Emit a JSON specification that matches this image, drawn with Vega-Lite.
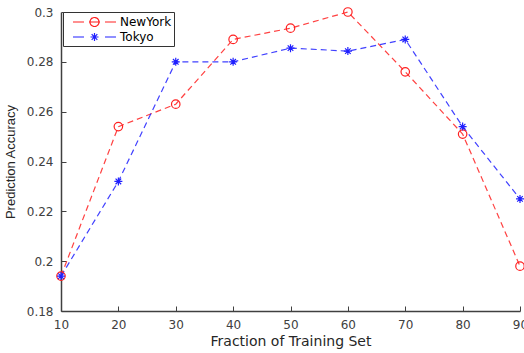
{
  "$schema": "https://vega.github.io/schema/vega-lite/v6.json",
  "autosize": "none",
  "width": 459,
  "height": 299,
  "padding": {"left": 61, "top": 12, "right": 4, "bottom": 42},
  "background": "white",
  "config": {
    "view": {"stroke": null},
    "font": "DejaVu Sans",
    "axis": {
      "domainColor": "#404040",
      "domainWidth": 1.5,
      "tickColor": "#404040",
      "tickSize": -5,
      "grid": false,
      "labelFlush": false,
      "labelColor": "#404040",
      "labelFont": "DejaVu Sans",
      "labelFontSize": 12,
      "titleFont": "DejaVu Sans",
      "titleFontSize": 14,
      "titleFontWeight": "normal",
      "titleColor": "#262626"
    }
  },
  "data": {
    "values": [
      {"frac": 10, "city": "NewYork", "acc": 0.194},
      {"frac": 20, "city": "NewYork", "acc": 0.254},
      {"frac": 30, "city": "NewYork", "acc": 0.263},
      {"frac": 40, "city": "NewYork", "acc": 0.289},
      {"frac": 50, "city": "NewYork", "acc": 0.2935},
      {"frac": 60, "city": "NewYork", "acc": 0.300},
      {"frac": 70, "city": "NewYork", "acc": 0.276},
      {"frac": 80, "city": "NewYork", "acc": 0.251},
      {"frac": 90, "city": "NewYork", "acc": 0.198},
      {"frac": 10, "city": "Tokyo", "acc": 0.194},
      {"frac": 20, "city": "Tokyo", "acc": 0.232},
      {"frac": 30, "city": "Tokyo", "acc": 0.280},
      {"frac": 40, "city": "Tokyo", "acc": 0.280},
      {"frac": 50, "city": "Tokyo", "acc": 0.2855},
      {"frac": 60, "city": "Tokyo", "acc": 0.2843},
      {"frac": 70, "city": "Tokyo", "acc": 0.289},
      {"frac": 80, "city": "Tokyo", "acc": 0.254},
      {"frac": 90, "city": "Tokyo", "acc": 0.225}
    ]
  },
  "encoding": {
    "x": {
      "field": "frac", "type": "quantitative",
      "scale": {"domain": [10, 90], "nice": false, "zero": false},
      "axis": {"values": [10, 20, 30, 40, 50, 60, 70, 80, 90], "format": "d", "title": "Fraction of Training Set", "labelPadding": 13, "titlePadding": 4}
    },
    "y": {
      "field": "acc", "type": "quantitative",
      "scale": {"domain": [0.18, 0.3], "nice": false, "zero": false},
      "axis": {"values": [0.18, 0.2, 0.22, 0.24, 0.26, 0.28, 0.3], "format": "~f", "title": "Prediction Accuracy", "titleFont": "Liberation Sans", "titleFontSize": 13, "labelPadding": 13, "titlePadding": 9}
    },
    "color": {
      "field": "city", "type": "nominal",
      "scale": {"domain": ["NewYork", "Tokyo"], "range": ["#ff2020", "#2020ff"]}
    }
  },
  "layer": [
    {
      "mark": {"type": "point", "filled": false, "opacity": 0.001},
      "encoding": {
        "color": {"field": "city", "type": "nominal",
          "legend": {
            "title": null,
            "orient": "none",
            "legendX": 2,
            "legendY": 0,
            "padding": 2,
            "rowPadding": 0,
            "strokeColor": "#333333",
            "fillColor": "white",
            "labelFontSize": 12,
            "labelColor": "#000000",
            "labelFont": "DejaVu Sans",
            "symbolSize": 196,
            "symbolStrokeWidth": 1.2,
            "symbolOpacity": 1,
            "symbolDash": [1, 0],
            "symbolOffset": 0,
            "labelOffset": 39
          }
        },
        "shape": {
          "field": "city", "type": "nominal",
          "legend": {
            "title": null,
            "orient": "none",
            "legendX": 2,
            "legendY": 0,
            "padding": 2,
            "rowPadding": 0,
            "strokeColor": "#333333",
            "fillColor": "white",
            "labelFontSize": 12,
            "labelColor": "#000000",
            "labelFont": "DejaVu Sans",
            "symbolSize": 196,
            "symbolStrokeWidth": 1.2,
            "symbolOpacity": 1,
            "symbolDash": [1, 0],
            "symbolOffset": 0,
            "labelOffset": 39
          },
          "scale": {"domain": ["NewYork", "Tokyo"], "range": [
            "M0,0H1.571M4.571,0H6.143M2.286,0H3.857M2.428,0A0.643,0.643,0,1,0,3.714,0A0.643,0.643,0,1,0,2.428,0",
            "M0,0H1.571M4.571,0H6.143M2.5,0H3.643M3.071,-0.571V0.571M2.667,-0.404L3.475,0.404M2.667,0.404L3.475,-0.404"
          ]}
        }
      }
    },
    {
      "mark": {"type": "line", "strokeWidth": 1.2, "strokeDash": [6, 4], "opacity": 0.85},
      "encoding": {
        "color": {"field": "city", "type": "nominal", "legend": null}
      }
    },
    {
      "transform": [{"filter": "datum.city === 'NewYork'"}],
      "mark": {"type": "point", "shape": "circle", "filled": false, "strokeWidth": 1.2, "opacity": 1, "size": 72},
      "encoding": {
        "color": {"field": "city", "type": "nominal", "legend": null}
      }
    },
    {
      "transform": [{"filter": "datum.city === 'Tokyo'"}],
      "mark": {"type": "point", "shape": "M-1,0H1M0,-1V1M-0.7,-0.7L0.7,0.7M-0.7,0.7L0.7,-0.7", "filled": false, "strokeWidth": 1.2, "opacity": 1, "size": 64},
      "encoding": {
        "color": {"field": "city", "type": "nominal", "legend": null}
      }
    }
  ]
}
